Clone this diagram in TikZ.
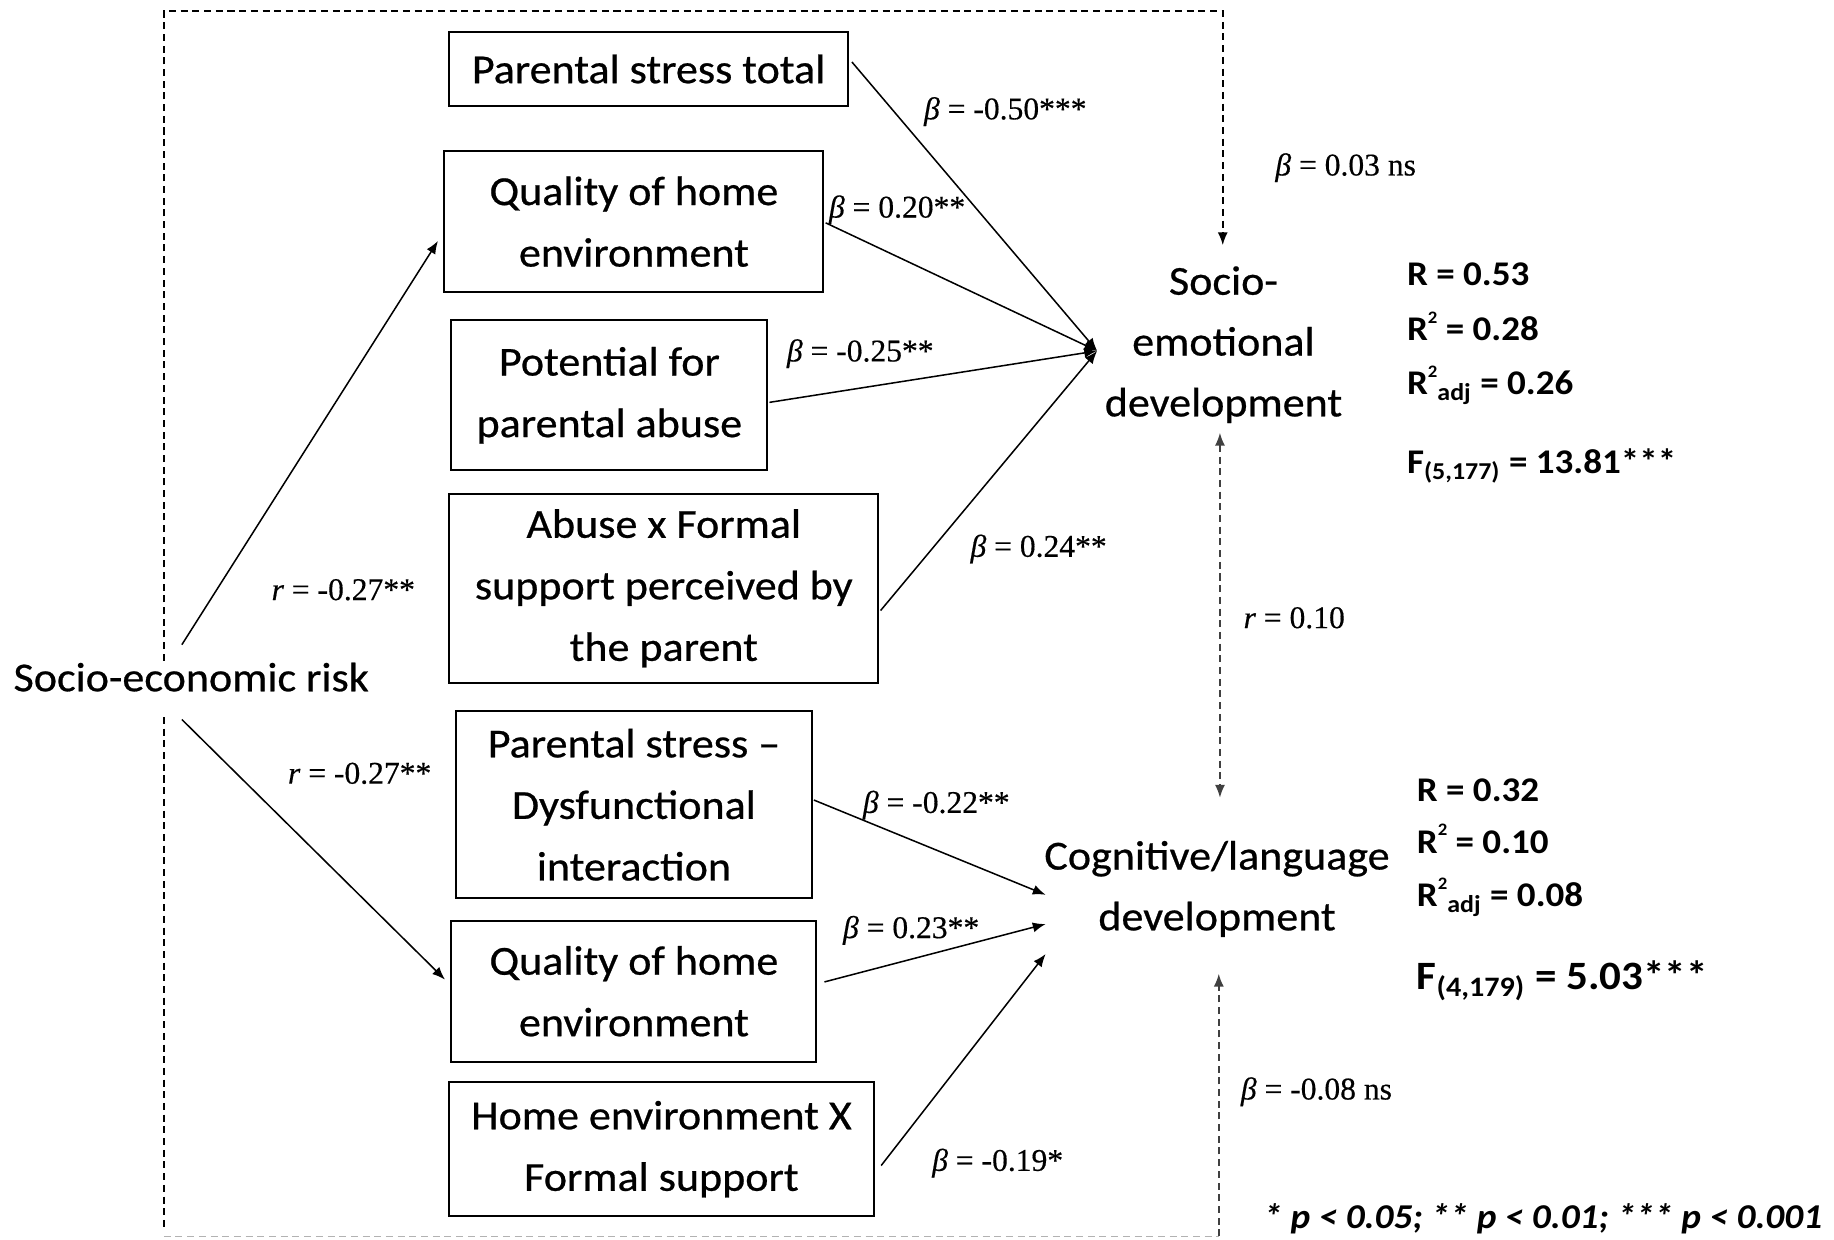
\documentclass[tikz,border=0pt]{standalone}
\usepackage{fontspec}
\setmainfont[FakeStretch=1.07, UprightFeatures={FakeBold=0.6}]{Carlito}
\newfontfamily\coeffont[FakeBold=0.4]{Liberation Serif}
\usetikzlibrary{calc,arrows.meta}
\newcommand{\figurescale}{0.5pt}
\newcommand{\bt}{\textit{β}}
\newcommand{\sq}{\raisebox{7.5pt}{\fontsize{7.5pt}{8pt}\selectfont 2}}

\tikzset{
	box/.style={draw, line width=0.85pt, align=center, inner sep=0pt, font=\fontsize{17.6pt}{26.3pt}\selectfont},
	outcome/.style={align=center, inner sep=0pt, font=\fontsize{17.6pt}{26pt}\selectfont},
	coef/.style={anchor=base, inner sep=0pt, font=\coeffont\fontsize{13.5pt}{16pt}\selectfont},
	stat/.style={anchor=base west, inner sep=0pt, font=\bfseries\fontsize{14.8pt}{18pt}\selectfont},
	effect/.style={line width=0.65pt, ->},
	dashframe/.style={line width=0.7pt, dash pattern=on 3pt off 2pt}
}

\begin{document}
\begin{tikzpicture}[x=\figurescale,y=-\figurescale, >={Latex[length=5.5pt,width=4.3pt]}]
	\useasboundingbox (0,0) rectangle (1568,1060);

	% predictors
	\node[box, minimum width=170.5pt, minimum height=32pt] (pst) at (554.5,59) {Parental stress total};
	\node[box, minimum width=162pt, minimum height=60.5pt] (qhe) at (542,189.5) {Quality of home\\environment};
	\node[box, minimum width=135pt, minimum height=64pt] (abuse) at (521,338) {Potential for\\parental abuse};
	\node[box, minimum width=183.5pt, minimum height=81pt] (abusefs) at (567.5,503) {Abuse x Formal\\support perceived by\\the parent};
	\node[box, minimum width=152pt, minimum height=80pt] (psdi) at (542,688) {Parental stress –\\Dysfunctional\\interaction};
	\node[box, minimum width=156pt, minimum height=60.5pt] (qhelow) at (542,847.5) {Quality of home\\environment};
	\node[box, minimum width=181.5pt, minimum height=57.5pt] (hefs) at (565.5,982.5) {Home environment X\\Formal support};

	\node[outcome, anchor=base] (ser) at (163.5,591) {Socio-economic risk};
	\node[outcome] (se) at (1046,294.7) {Socio-\\emotional\\development};
	\node[outcome] (cog) at (1040.5,760) {Cognitive/language\\development};

	% arrow tips at the outcomes
	\coordinate (seIn) at (938,300);
	\coordinate (cogA) at (894,765);
	\coordinate (cogB) at (894,790);
	\coordinate (cogC) at (894,815.6);
	\coordinate (seTop) at (1045.4,209.6);
	\coordinate (seBot) at (1043,370);
	\coordinate (cogTop) at (1043,682);
	\coordinate (cogBot) at (1042,832.5);

	% socio-economic risk
	\draw[effect] ($(ser.north)+(-8,-15)$) -- ($(qhe.west)+(-4.7,16.5)$);
	\draw[effect] ($(ser.south)+(-8,23.5)$) -- ($(qhelow.west)+(-4.7,-10)$);

	\draw[effect] ($(pst.east)+(2.5,-6)$) -- (seIn);
	\draw[effect] ($(qhe.east)+(1,1)$) -- (seIn);
	\draw[effect] ($(abuse.east)+(1,6)$) -- (seIn);
	\draw[effect] ($(abusefs.east)+(1,19)$) -- (seIn);
	\draw[effect] ($(psdi.east)+(1,-4)$) -- (cogA);
	\draw[effect] ($(qhelow.east)+(6,-8)$) -- (cogB);
	\draw[effect] ($(hefs.east)+(5.5,14)$) -- (cogC);

	% dashed frame
	\draw[dashframe, ->] (140,565) -- (140,9.5) -| (seTop);
	\draw[dashframe] (140,613) -- (140,1050);
	\draw[dashframe, gray!60] (140,1057) -- (1042,1057);
	\draw[dashframe, black!75, ->] (1042,1057) -- (cogBot);
	\draw[dashframe, black!75, <->] (seBot) -- (cogTop);

	% coefficients
	\node[coef] (b050) at (859.5,102) {\bt{} = -0.50***};
	\node[coef] (b020) at (767,186) {\bt{} = 0.20**};
	\node[coef] (b025) at (735.5,309) {\bt{} = -0.25**};
	\node[coef] (b024) at (888,476) {\bt{} = 0.24**};
	\node[coef] (b003) at (1150.5,150) {\bt{} = 0.03 ns};
	\node[coef] (rup) at (293.5,513) {\textit{r} = -0.27**};
	\node[coef] (rdown) at (307.5,670) {\textit{r} = -0.27**};
	\node[coef] (r010) at (1106.5,537) {\textit{r} = 0.10};
	\node[coef] (b022) at (800.5,695) {\bt{} = -0.22**};
	\node[coef] (b023) at (779,802) {\bt{} = 0.23**};
	\node[coef] (b019) at (853,1001) {\bt{} = -0.19*};
	\node[coef] (b008) at (1125.5,940) {\bt{} = -0.08 ns};

	% model fit
	\node[stat] (seR) at (1202.6,244.5) {R = 0.53};
	\node[stat] (seRsq) at (1202.6,291.3) {R\sq{} = 0.28};
	\node[stat] (seRadj) at (1202.6,337.7) {R\sq\textsubscript{adj} = 0.26};
	\node[stat] (seF) at (1202.6,404.5) {F\textsubscript{(5,177)} = 13.81***};
	\node[stat] (cogR) at (1211,685.4) {R = 0.32};
	\node[stat] (cogRsq) at (1211,729.5) {R\sq{} = 0.10};
	\node[stat] (cogRadj) at (1211,775.1) {R\sq\textsubscript{adj} = 0.08};
	\node[stat, font=\bfseries\fontsize{17.2pt}{20pt}\selectfont] (cogF) at (1211,846.4) {F\textsubscript{(4,179)} = 5.03***};

	\node[anchor=base west, inner sep=0pt, font=\bfseries\itshape\fontsize{14.9pt}{18pt}\selectfont] (sig) at (1080,1050.7) {* p < 0.05; ** p < 0.01; *** p < 0.001};
\end{tikzpicture}
\end{document}
